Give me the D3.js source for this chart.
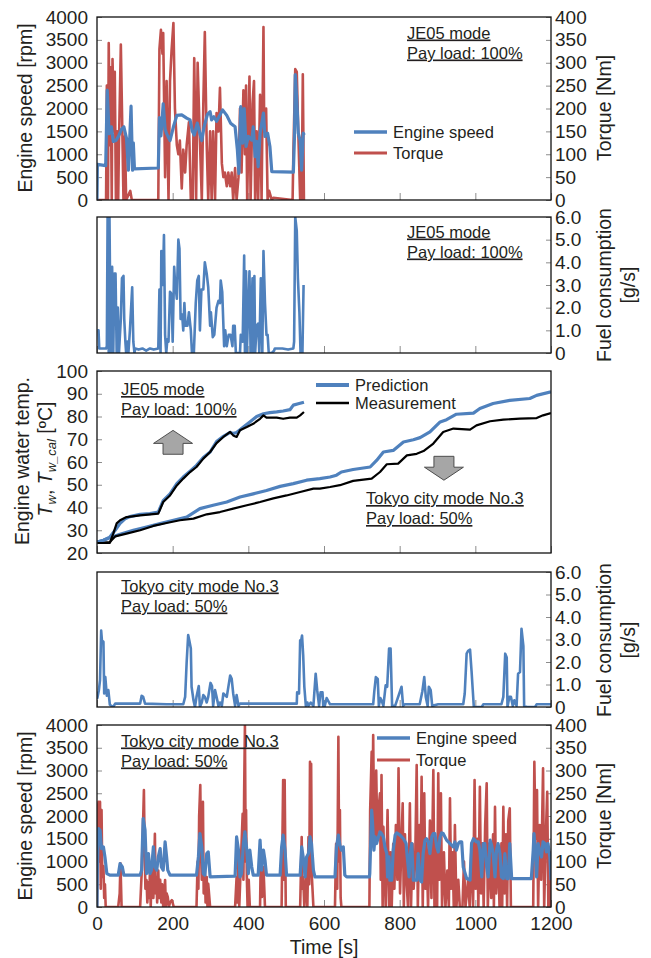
<!DOCTYPE html>
<html>
<head>
<meta charset="utf-8">
<script src="https://cdn.jsdelivr.net/npm/d3@7"></script>
<style>
body { margin: 0; background: #fff; }
svg { display: block; }
</style>
</head>
<body>
<div id="chart"></div>
<script>
// ---- tick values ----
var timeTicks = [0, 200, 400, 600, 800, 1000, 1200];
var rpmTicks = [0, 500, 1000, 1500, 2000, 2500, 3000, 3500, 4000];
var torqueTicks = [0, 50, 100, 150, 200, 250, 300, 350, 400];
var fuelTicks = [0, 1, 2, 3, 4, 5, 6];
var tempTicks = [20, 30, 40, 50, 60, 70, 80, 90, 100];

// ---- JE05 mode, pay load 100% : [time s, value] ----
var je05Speed = [[0,0],[1,780],[23,750],[27,2400],[32,1450],[38,1600],[43,1280],[50,1300],[56,1380],[65,1550],[71,1600],[78,1350],[83,650],[90,2050],[94,650],[96,1250],[99,680],[162,700],[165,1800],[169,1400],[175,2100],[180,1550],[184,1450],[193,1300],[202,1600],[211,1850],[224,1860],[237,1790],[246,1750],[252,1500],[257,1420],[265,1680],[272,1450],[277,1300],[283,1600],[292,1870],[299,1930],[303,1750],[309,1820],[316,1720],[325,1860],[332,1970],[343,1850],[353,1680],[365,1600],[371,1100],[375,580],[380,2040],[385,1240],[389,2000],[394,1170],[400,1390],[409,1310],[413,1600],[418,950],[422,1280],[426,730],[431,1460],[440,1900],[444,1390],[451,1460],[457,1170],[462,620],[519,610],[522,1400],[524,2740],[528,2190],[532,1460],[537,1300],[541,650],[545,1460],[548,1420]];

var je05Torque = [[0,0],[24,0],[26,250],[29,0],[31,343],[34,120],[36,290],[39,0],[41,308],[45,150],[47,280],[50,0],[53,150],[56,0],[58,120],[63,340],[67,150],[70,0],[74,140],[77,0],[88,20],[92,0],[162,0],[165,330],[169,372],[173,320],[175,365],[180,50],[184,260],[189,0],[193,260],[197,325],[202,387],[206,200],[211,120],[215,100],[219,130],[224,25],[228,110],[233,60],[237,120],[243,170],[248,0],[253,0],[257,310],[262,0],[266,300],[272,130],[277,0],[281,210],[285,367],[290,120],[294,0],[299,150],[303,0],[307,150],[312,0],[316,190],[321,150],[325,245],[330,80],[334,50],[338,60],[343,30],[347,60],[352,30],[356,60],[360,0],[365,70],[369,0],[374,50],[378,200],[382,60],[387,240],[391,100],[394,250],[397,0],[403,270],[406,0],[411,210],[415,260],[418,0],[422,150],[426,0],[431,230],[435,0],[440,378],[442,150],[447,200],[451,0],[455,20],[462,0],[466,5],[517,0],[519,100],[524,286],[528,280],[532,150],[537,0],[541,0],[544,275],[547,0]];

var je05Fuel = [[1,1.0],[4,1.0],[6,0.2],[24,0.2],[26,0.3],[28,6.0],[31,0],[33,6.0],[34,4.1],[37,0],[40,3.8],[43,0],[46,3.5],[49,3.5],[52,0],[55,2.0],[58,0],[63,1.5],[66,3.3],[70,3.4],[72,1.5],[75,0.5],[77,0],[80,0.5],[83,0],[87,1.0],[93,2.9],[96,0.5],[99,0],[101,0.2],[110,0.15],[120,0.2],[130,0.1],[140,0.2],[150,0.15],[162,0.2],[165,2.8],[168,0],[170,4.5],[174,3.0],[177,5.2],[180,0.8],[183,0],[186,0.6],[189,0.5],[193,2.7],[197,2.6],[200,0.5],[204,3.8],[206,3.2],[211,2.4],[215,5.0],[218,4.6],[221,1.5],[225,1.7],[228,1.0],[231,2.2],[234,1.2],[239,1.2],[243,1.8],[248,1.0],[251,0],[256,0],[261,2.2],[265,3.2],[269,3.4],[272,1.0],[276,2.8],[281,2.8],[285,4.0],[290,3.5],[294,2.9],[299,1.2],[301,1.8],[306,0.7],[310,0.8],[316,2.0],[321,2.3],[325,2.2],[327,3.2],[331,2.7],[336,0.3],[339,1.0],[343,0.3],[348,0.8],[353,0.8],[358,0.3],[360,1.2],[364,1.2],[367,0],[378,0],[380,0.8],[385,0.5],[389,4.3],[391,0],[394,3.6],[396,0],[403,3.6],[406,0],[411,3.3],[413,0],[416,3.4],[418,0],[422,1.2],[426,1.3],[429,0],[433,3.3],[437,0],[440,4.5],[444,2.2],[448,0.8],[451,0.8],[454,0],[462,0],[468,0.1],[470,0.2],[490,0.2],[505,0.15],[519,0.2],[521,0.5],[524,6.0],[528,5.4],[531,3.3],[535,1.8],[538,0],[543,0],[546,3.0]];

// ---- engine water temperature [time s, degC] ----
var je05Pred = [[1,24.8],[17,25.6],[34,27],[48,30],[61,33],[74,35],[87,36],[114,37],[140,37.3],[162,38],[175,43],[193,46],[211,50.5],[228,53.4],[246,56],[263,58.5],[281,62],[299,64.4],[316,69],[334,71.3],[352,73],[360,72.5],[369,73],[387,75.4],[404,77.6],[422,80],[440,81.2],[457,81.7],[475,82],[492,82.4],[510,83],[519,85],[532,85.6],[547,86.3]];
var je05Meas = [[1,24.4],[34,24.4],[43,28.5],[52,33],[61,34.4],[78,35.8],[114,36.5],[162,37.3],[175,42.4],[193,45.3],[211,49.7],[228,52.7],[246,55.6],[263,57.8],[281,61.5],[299,64.4],[316,68.3],[334,71],[352,73.2],[360,71.7],[369,71],[378,74],[396,75.4],[413,76.8],[431,79],[440,80.5],[448,79.5],[475,79.5],[492,79],[510,79.5],[528,79.5],[537,80.5],[547,82]];
var tokyoPred = [[1,24.8],[17,25.6],[34,26.7],[61,28.2],[96,30],[131,31.4],[167,32.9],[202,34.4],[237,35.8],[272,39.5],[307,41],[343,42.4],[378,44.6],[413,46],[448,47.5],[484,49.3],[519,50.5],[554,52],[589,52.7],[616,53.4],[633,54.2],[646,55.6],[677,56.7],[722,57.8],[739,60.7],[757,64.4],[783,65.1],[810,68.8],[836,69.8],[854,70.7],[880,73.2],[907,77.6],[924,78.6],[950,81],[995,81.5],[1012,83.5],[1047,85.7],[1091,87.1],[1144,87.9],[1162,89.3],[1200,90.8]];
var tokyoMeas = [[1,24.4],[34,24.8],[48,27.3],[78,28.5],[114,30],[149,31.9],[184,33.2],[219,34.4],[255,35.1],[290,37],[325,38],[360,39.5],[396,41],[431,42.4],[466,44],[501,45.3],[537,46.8],[572,48.3],[589,48.3],[616,49],[642,49.8],[677,51.7],[726,52.7],[748,55.6],[766,59],[796,59.3],[819,62.9],[845,63.6],[863,64.8],[889,68.1],[915,73.2],[942,74.7],[986,74.2],[1003,76.1],[1039,77.9],[1074,78.6],[1118,79.1],[1162,79.3],[1179,80.5],[1200,81.5]];

// ---- Tokyo city mode No.3, pay load 50% ----
var tokyoFuel = [[0,0.67],[1,0.4],[5,0.75],[8,1.2],[11,3.4],[13,2.96],[17,2.9],[19,0.6],[22,1.33],[26,0.5],[30,0.75],[34,0.1],[43,0],[48,0.15],[114,0.15],[118,0.5],[122,0.45],[127,0.15],[184,0.12],[228,0.12],[233,0.45],[237,2.0],[241,3.2],[244,2.96],[248,2.6],[250,0.9],[255,0.3],[259,0],[263,0.45],[269,0.93],[272,0],[277,0.2],[281,0.53],[285,0.45],[290,0.2],[294,0.45],[300,1.07],[304,0.93],[307,0.05],[312,0.75],[316,0.45],[321,0.05],[325,0.2],[330,0.05],[334,0.6],[343,0.45],[352,1.4],[356,1.25],[360,0.6],[365,0.05],[369,0.53],[374,0.05],[378,0.15],[528,0.15],[529,0.65],[534,0.6],[537,2.96],[539,2.9],[542,3.18],[545,2.3],[548,0.9],[552,0.05],[556,0.2],[559,0.05],[565,0.2],[572,0.05],[578,1.48],[582,0.75],[587,0.05],[591,0.65],[596,0.65],[598,0.05],[602,0.05],[607,0.4],[616,0.12],[730,0.12],[733,0.7],[737,1.33],[742,1.25],[745,0.05],[749,0.4],[752,0.3],[757,0.05],[763,0.96],[767,0.9],[772,2.6],[776,2.6],[780,0.05],[788,0.05],[805,0.9],[809,0.05],[814,0.12],[853,0.12],[860,0.7],[865,1.33],[869,0.45],[874,0.05],[877,0.9],[882,0.75],[886,0.05],[902,0.12],[968,0.12],[972,0.6],[977,2.37],[981,2.5],[986,2.55],[990,1.6],[993,0.8],[996,0],[1017,0],[1021,0.12],[1069,0.12],[1074,0.45],[1079,2.37],[1083,2.2],[1085,0],[1090,0.45],[1094,0.45],[1099,0.05],[1103,0.3],[1109,0.05],[1113,1.48],[1118,1.55],[1122,3.48],[1127,2.7],[1129,0.05],[1136,0],[1158,0],[1162,0.12],[1200,0.12]];

var tokyoSpeed = [[0,0],[1,880],[4,1725],[8,1690],[12,1285],[17,1320],[21,1100],[26,735],[34,700],[56,700],[61,955],[67,880],[71,700],[114,700],[118,810],[122,1945],[127,1690],[131,735],[136,1175],[140,735],[144,810],[149,1320],[153,880],[158,810],[162,1100],[167,1285],[170,880],[175,810],[180,1430],[184,1100],[187,810],[193,700],[263,700],[268,1100],[272,1615],[277,1320],[281,735],[285,700],[290,1175],[294,1210],[299,660],[365,680],[369,1540],[374,1250],[378,660],[382,735],[387,1395],[391,1650],[396,1250],[400,735],[404,1250],[409,880],[413,700],[426,700],[431,1470],[435,810],[440,1250],[444,1030],[448,700],[484,700],[488,1320],[492,1580],[497,1250],[501,700],[537,700],[541,1320],[545,1100],[550,660],[554,1100],[559,1175],[563,1540],[567,1395],[572,810],[576,660],[629,660],[633,1320],[638,1580],[642,1360],[646,1250],[651,1320],[655,700],[660,660],[720,660],[721,735],[726,2130],[728,1900],[732,1250],[735,1540],[739,1395],[744,1540],[748,1650],[752,1615],[757,1540],[761,1320],[766,1175],[768,660],[772,1100],[774,590],[779,590],[783,1250],[788,1580],[792,1630],[801,1580],[810,1500],[817,1395],[820,1100],[825,660],[827,1100],[832,1395],[836,590],[845,590],[849,1175],[854,590],[858,550],[862,1175],[867,1470],[871,1500],[876,1430],[880,1175],[885,1540],[889,1615],[893,1615],[898,1320],[902,1210],[907,1540],[911,1630],[915,1615],[924,1470],[933,1395],[942,1320],[946,1430],[950,1250],[955,1395],[959,1430],[964,1430],[968,880],[977,625],[986,590],[990,1395],[995,1500],[999,1470],[1003,1430],[1008,1430],[1012,1250],[1017,660],[1021,1395],[1025,1395],[1030,880],[1034,660],[1039,1470],[1043,1360],[1047,1175],[1052,660],[1056,1250],[1060,1395],[1065,1175],[1069,660],[1074,625],[1078,1175],[1083,625],[1087,625],[1091,1395],[1096,625],[1148,625],[1153,1250],[1155,1615],[1159,1175],[1162,660],[1166,1395],[1170,1250],[1175,1100],[1179,1430],[1184,1395],[1188,1210],[1192,1395],[1197,1100],[1200,590]];

var tokyoTorque = [[0,0],[2,213],[4,231],[6,100],[8,231],[10,40],[12,213],[14,66],[17,90],[19,20],[21,50],[23,0],[56,0],[60,30],[62,96],[65,0],[114,0],[118,73],[121,160],[124,257],[126,120],[128,40],[131,59],[133,10],[136,55],[138,20],[140,81],[142,0],[144,59],[147,110],[149,20],[151,80],[153,161],[155,30],[157,66],[159,10],[162,80],[164,20],[167,60],[170,10],[172,50],[175,0],[178,40],[180,59],[182,0],[184,30],[187,22],[190,0],[193,10],[198,15],[203,0],[263,0],[266,100],[268,40],[270,200],[273,268],[275,120],[277,60],[280,231],[282,30],[285,95],[287,10],[290,66],[292,0],[294,51],[299,0],[365,0],[369,66],[371,10],[374,120],[376,0],[385,205],[387,60],[389,257],[391,400],[393,100],[394,213],[396,66],[398,0],[401,60],[404,0],[431,0],[433,118],[436,22],[440,88],[444,0],[488,0],[490,139],[492,279],[494,60],[496,279],[499,0],[537,0],[541,154],[543,40],[545,66],[548,0],[554,81],[556,0],[559,154],[561,50],[563,319],[565,100],[566,315],[568,66],[572,0],[629,0],[632,139],[635,40],[638,374],[640,100],[642,213],[644,20],[646,0],[720,0],[722,213],[726,341],[728,200],[730,378],[732,213],[735,139],[738,300],[741,150],[744,213],[748,250],[750,60],[752,290],[755,0],[757,176],[760,90],[763,0],[768,213],[772,0],[776,120],[779,0],[783,139],[786,40],[790,180],[794,60],[797,305],[801,30],[805,150],[808,228],[811,0],[814,160],[818,60],[822,0],[827,228],[830,0],[834,139],[837,40],[841,100],[845,312],[848,0],[852,180],[855,60],[858,286],[861,0],[865,250],[868,40],[871,140],[875,0],[880,190],[884,20],[889,301],[892,0],[895,150],[899,0],[902,294],[905,60],[909,250],[912,0],[917,120],[921,0],[926,80],[930,0],[933,239],[936,40],[940,120],[943,0],[946,180],[950,0],[955,60],[959,0],[966,0],[970,100],[974,0],[981,60],[985,0],[990,140],[994,0],[998,279],[1001,40],[1005,150],[1008,0],[1012,264],[1015,30],[1019,140],[1022,0],[1026,180],[1030,272],[1033,0],[1038,140],[1042,20],[1047,160],[1049,0],[1052,220],[1055,30],[1060,120],[1064,0],[1069,140],[1071,0],[1074,220],[1077,30],[1081,160],[1084,0],[1087,190],[1091,217],[1094,0],[1153,0],[1156,319],[1159,150],[1163,257],[1166,0],[1170,180],[1174,60],[1179,305],[1182,0],[1186,150],[1190,253],[1193,0],[1197,120],[1200,0]];

// ---- layout ----
var width = 651, height = 958;
var plotLeft = 97, plotRight = 551;
var FONT = "'Liberation Sans', Arial, Helvetica, sans-serif";
var BLUE = "#4f81bd", RED = "#c0504d", INK = "#231f20";

var svg = d3.select("#chart").append("svg")
    .attr("width", width).attr("height", height)
    .style("font-family", FONT);

var x = d3.scaleLinear().domain([0, 1200]).range([plotLeft, plotRight]);
var intFmt = d3.format("d");

function styleAxis(sel) {
  sel.select(".domain").remove();
  sel.attr("font-size", 19).attr("font-family", FONT);
  sel.selectAll(".tick line").attr("stroke", "#8c8c8c").attr("stroke-width", 1);
  sel.selectAll(".tick text").attr("fill", INK);
}

function makePanel(id, top, bottom) {
  svg.append("clipPath").attr("id", "clip-" + id)
    .append("rect").attr("x", plotLeft).attr("y", top)
    .attr("width", plotRight - plotLeft).attr("height", bottom - top);
  var g = svg.append("g").attr("class", "panel " + id);
  // time ticks, labels only on the last panel
  var ax = d3.axisBottom(x).tickValues(timeTicks).tickSizeInner(-7).tickSizeOuter(0).tickPadding(9.5);
  ax.tickFormat(id === "p5" ? intFmt : "");
  g.append("g").attr("transform", "translate(0," + bottom + ")").call(ax).call(styleAxis);
  return { g: g, top: top, bottom: bottom, clip: "url(#clip-" + id + ")" };
}

function leftAxis(p, scale, ticks, fmt) {
  var ax = d3.axisLeft(scale).tickValues(ticks).tickSizeInner(-5).tickSizeOuter(0).tickPadding(9)
    .tickFormat(fmt || intFmt);
  p.g.append("g").attr("transform", "translate(" + plotLeft + ",0)").call(ax).call(styleAxis);
}

function rightAxis(p, scale, ticks, fmt) {
  var ax = d3.axisRight(scale).tickValues(ticks).tickSizeInner(-5).tickSizeOuter(0).tickPadding(4)
    .tickFormat(fmt || intFmt);
  p.g.append("g").attr("transform", "translate(" + plotRight + ",0)").call(ax).call(styleAxis);
}

function drawLine(p, data, y, color, w) {
  p.g.append("path").datum(data)
    .attr("clip-path", p.clip)
    .attr("fill", "none").attr("stroke", color).attr("stroke-width", w)
    .attr("stroke-linejoin", "round")
    .attr("d", d3.line().x(function (d) { return x(d[0]); }).y(function (d) { return y(d[1]); }));
}

function frame(p) {
  p.g.append("rect").attr("x", plotLeft).attr("y", p.top)
    .attr("width", plotRight - plotLeft).attr("height", p.bottom - p.top)
    .attr("fill", "none").attr("stroke", "#111").attr("stroke-width", 1.3);
}

function vTitle(xPos, yPos, label) {
  return svg.append("text").attr("transform", "translate(" + xPos + "," + yPos + ") rotate(-90)")
    .attr("text-anchor", "middle").attr("font-size", 19.5).attr("fill", INK).text(label);
}

function note(x0, y0, lines) {
  lines.forEach(function (s, i) {
    svg.append("text").attr("x", x0).attr("y", y0 + i * 20)
      .attr("font-size", 16.5).attr("fill", INK)
      .attr("text-decoration", "underline").text(s);
  });
}

function legend(x0, y0, gap, items) {
  items.forEach(function (it, i) {
    var yy = y0 + i * gap;
    svg.append("line").attr("x1", x0).attr("x2", x0 + 33).attr("y1", yy).attr("y2", yy)
      .attr("stroke", it.color).attr("stroke-width", it.w);
    svg.append("text").attr("x", x0 + 39).attr("y", yy).attr("dy", "0.35em")
      .attr("font-size", 16.5).attr("fill", INK).text(it.name);
  });
}

function fuelFmt(d) { return d === 0 ? "0" : d.toFixed(1); }

// ---- panel 1 : JE05 engine speed / torque ----
var p1 = makePanel("p1", 17, 200);
var y1 = d3.scaleLinear().domain([0, 4000]).range([200, 17]);
var y1r = d3.scaleLinear().domain([0, 400]).range([200, 17]);
leftAxis(p1, y1, rpmTicks);
rightAxis(p1, y1r, torqueTicks);
drawLine(p1, je05Torque, y1r, RED, 2.6);
drawLine(p1, je05Speed, y1, BLUE, 3.2);
frame(p1);
vTitle(32, 108, "Engine speed [rpm]");
vTitle(611, 108, "Torque [Nm]");
note(407, 38.5, ["JE05 mode", "Pay load: 100%"]);
legend(354, 132, 21, [{ name: "Engine speed", color: BLUE, w: 3.5 }, { name: "Torque", color: RED, w: 3 }]);

// ---- panel 2 : JE05 fuel ----
var p2 = makePanel("p2", 217, 353);
var y2 = d3.scaleLinear().domain([0, 6]).range([353, 217]);
rightAxis(p2, y2, fuelTicks, fuelFmt);
drawLine(p2, je05Fuel, y2, BLUE, 2.6);
frame(p2);
vTitle(611, 285, "Fuel consumption");
vTitle(635, 285, "[g/s]");
note(407, 237.5, ["JE05 mode", "Pay load: 100%"]);

// ---- panel 3 : water temperature ----
var p3 = makePanel("p3", 371, 553);
var y3 = d3.scaleLinear().domain([20, 100]).range([553, 371]);
leftAxis(p3, y3, tempTicks);
drawLine(p3, tokyoPred, y3, BLUE, 3.2);
drawLine(p3, tokyoMeas, y3, "#000", 2.2);
drawLine(p3, je05Pred, y3, BLUE, 3.2);
drawLine(p3, je05Meas, y3, "#000", 2.2);
frame(p3);
vTitle(29, 461, "Engine water temp.");
var t2 = svg.append("text").attr("transform", "translate(52,459) rotate(-90)")
  .attr("text-anchor", "middle").attr("font-size", 19.5).attr("fill", INK);
t2.append("tspan").attr("font-style", "italic").text("T");
t2.append("tspan").attr("font-style", "italic").attr("font-size", 13).attr("dy", 4).text("w");
t2.append("tspan").attr("dy", -4).text(", ");
t2.append("tspan").attr("font-style", "italic").text("T");
t2.append("tspan").attr("font-style", "italic").attr("font-size", 13).attr("dy", 4).text("w_cal");
t2.append("tspan").attr("dy", -4).text(" [\u00baC]");
note(121, 395, ["JE05 mode", "Pay load: 100%"]);
note(366, 504, ["Tokyo city mode No.3", "Pay load: 50%"]);
legend(316, 385, 18, [{ name: "Prediction", color: BLUE, w: 4 }, { name: "Measurement", color: "#000", w: 2.5 }]);

// block arrows, positioned in data space of the temperature panel
function arrow(tc, tipT, baseT, up) {
  var cx = x(tc), yt = y3(tipT), yb = y3(baseT);
  var dir = up ? 1 : -1, head = 13, hw = 19.5, sw = 10;
  var yh = yt + dir * head;
  var pts = [[cx, yt], [cx + hw, yh], [cx + sw, yh], [cx + sw, yb], [cx - sw, yb], [cx - sw, yh], [cx - hw, yh]];
  svg.append("polygon").attr("points", pts.map(function (p) { return p.join(","); }).join(" "))
    .attr("fill", "#a6a6a6").attr("stroke", "#4d4d4d").attr("stroke-width", 1);
}
arrow(201, 73.9, 63.4, true);
arrow(917, 52, 62.5, false);

// ---- panel 4 : Tokyo fuel ----
var p4 = makePanel("p4", 572, 707);
var y4 = d3.scaleLinear().domain([0, 6]).range([707, 572]);
rightAxis(p4, y4, fuelTicks, fuelFmt);
drawLine(p4, tokyoFuel, y4, BLUE, 2.6);
frame(p4);
vTitle(611, 640, "Fuel consumption");
vTitle(635, 640, "[g/s]");
note(121, 591.5, ["Tokyo city mode No.3", "Pay load: 50%"]);

// ---- panel 5 : Tokyo engine speed / torque ----
var p5 = makePanel("p5", 725, 907);
var y5 = d3.scaleLinear().domain([0, 4000]).range([907, 725]);
var y5r = d3.scaleLinear().domain([0, 400]).range([907, 725]);
leftAxis(p5, y5, rpmTicks);
rightAxis(p5, y5r, torqueTicks);
drawLine(p5, tokyoTorque, y5r, RED, 2.6);
drawLine(p5, tokyoSpeed, y5, BLUE, 3.2);
frame(p5);
vTitle(32, 816, "Engine speed [rpm]");
vTitle(611, 816, "Torque [Nm]");
note(121, 746.5, ["Tokyo city mode No.3", "Pay load: 50%"]);
legend(377, 738, 22, [{ name: "Engine speed", color: BLUE, w: 3.5 }, { name: "Torque", color: RED, w: 3 }]);

svg.append("text").attr("x", (plotLeft + plotRight) / 2).attr("y", 954)
  .attr("text-anchor", "middle").attr("font-size", 19.5).attr("fill", INK).text("Time [s]");
</script>
</body>
</html>
